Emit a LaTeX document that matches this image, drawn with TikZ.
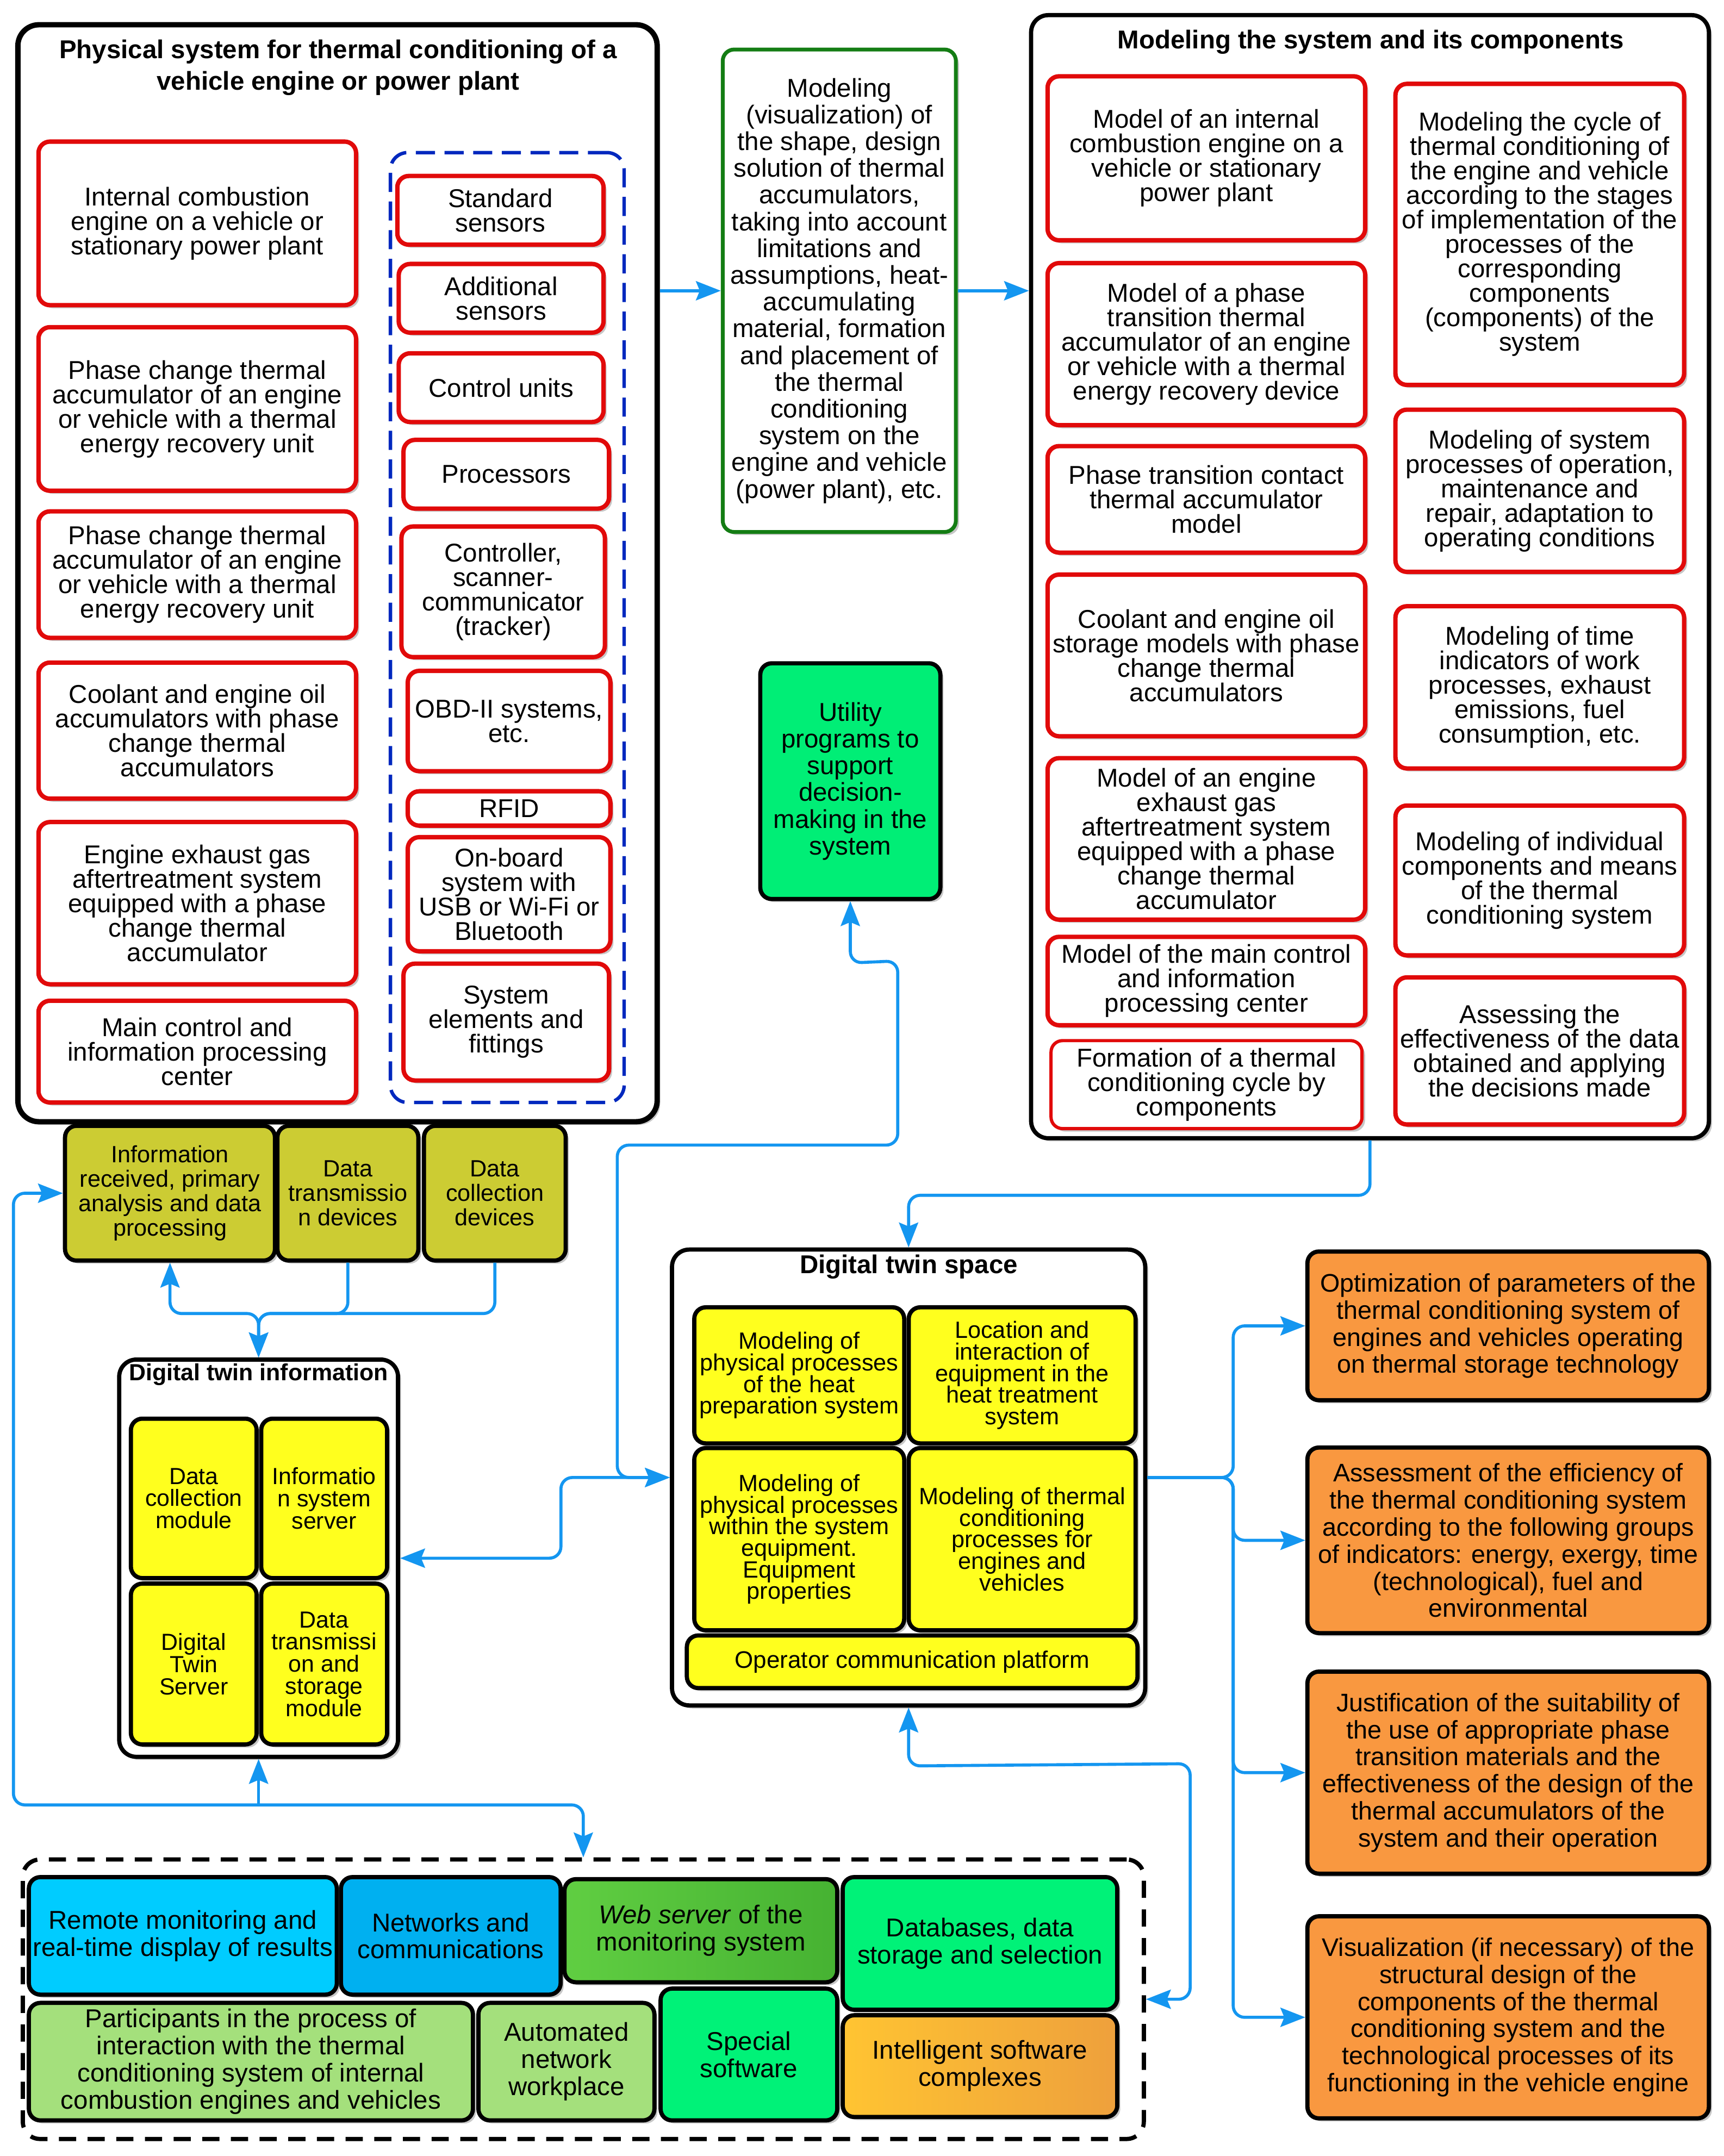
\documentclass[tikz,border=0pt]{standalone}
\usepackage{fontspec}
\setmainfont{Liberation Sans}
\usetikzlibrary{arrows.meta,shadows,calc}
\lineskiplimit=-100pt
\definecolor{redb}{RGB}{225,10,10}
\definecolor{arrowc}{RGB}{20,150,240}
\definecolor{dblue}{RGB}{0,40,190}
\definecolor{greenb}{RGB}{20,125,20}
\definecolor{colOlive}{RGB}{204,204,51}
\definecolor{colYellow}{RGB}{255,255,30}
\definecolor{colOrange}{RGB}{249,152,64}
\definecolor{colSpring}{RGB}{0,238,118}
\definecolor{colCyan}{RGB}{0,204,255}
\definecolor{colNet}{RGB}{0,176,240}
\definecolor{colWebA}{RGB}{96,206,66}
\definecolor{colWebB}{RGB}{70,178,50}
\definecolor{colDB}{RGB}{0,242,120}
\definecolor{colLight}{RGB}{164,224,124}
\definecolor{colIntA}{RGB}{255,196,50}
\definecolor{colIntB}{RGB}{238,160,60}
\newcommand\mybox[7]{\node[#1, minimum width={(#5-#3)*0.02529cm}, minimum height={(#6-#4)*0.02529cm}] (#2) at ({(#3+#5)/2},{(#4+#6)/2}) {#7};}
\tikzset{
  shad/.style={drop shadow={shadow xshift=1.6pt,shadow yshift=-1.6pt,opacity=0.22,fill=black}},
  basebox/.style={rounded corners=6pt, align=center, inner sep=1pt, shad},
  redbox/.style={basebox, draw=redb, line width=2.3pt, fill=white, font=\fontsize{13.5}{12.8}\selectfont},
  container/.style={draw=black, line width=2.2pt, fill=white, rounded corners=9pt, shad},
  ttl/.style={align=center, inner sep=0pt, font=\bfseries\fontsize{13.5}{16.5}\selectfont},
  dashblue/.style={draw=dblue, line width=1.8pt, dash pattern=on 10pt off 5pt, rounded corners=9pt},
  dashblack/.style={draw=black, line width=2.2pt, dash pattern=on 9pt off 6pt, rounded corners=9pt},
  greenbox/.style={basebox, draw=greenb, line width=2pt, fill=white, font=\fontsize{13.5}{14}\selectfont},
  blkbox/.style={basebox, draw=black, line width=2.2pt},
  utilbox/.style={blkbox, fill=colSpring, font=\fontsize{13.5}{14}\selectfont},
  olivebox/.style={blkbox, fill=colOlive, font=\fontsize{12.3}{12.8}\selectfont},
  yelA/.style={blkbox, fill=colYellow, font=\fontsize{12.2}{11.6}\selectfont},
  yelB/.style={blkbox, fill=colYellow, font=\fontsize{12.3}{11.3}\selectfont},
  orbox/.style={blkbox, fill=colOrange, font=\fontsize{13.3}{14.2}\selectfont},
  botbox/.style={blkbox, font=\fontsize{13.5}{14.2}\selectfont},
  conn/.style={draw=arrowc, line width=1.6pt, rounded corners=6pt},
  arr/.style={conn, -{Stealth[length=13pt,width=10pt,inset=2pt]}},
  dbl/.style={conn, {Stealth[length=13pt,width=10pt,inset=2pt]}-{Stealth[length=13pt,width=10pt,inset=2pt]}}
}
\begin{document}
\begin{tikzpicture}[x=0.02529cm,y=-0.02529cm]
\useasboundingbox (0,0) rectangle (1254,1568.4);

% ---------- Physical system ----------
\mybox{container,line width=2.8pt,rounded corners=11pt}{phys}{13}{18}{478}{816}{}
\node[ttl] (physT) at (246,49) {Physical system for thermal conditioning of a\\vehicle engine or power plant};
\mybox{dashblue}{sensgrp}{284}{111}{454}{802}{}
\mybox{redbox}{p1}{28}{103}{259}{222}{Internal combustion\\engine on a vehicle or\\stationary power plant}
\mybox{redbox}{p2}{28}{238}{259}{357}{Phase change thermal\\accumulator of an engine\\or vehicle with a thermal\\energy recovery unit}
\mybox{redbox}{p3}{28}{372}{259}{464}{Phase change thermal\\accumulator of an engine\\or vehicle with a thermal\\energy recovery unit}
\mybox{redbox}{p4}{28}{482}{259}{581}{Coolant and engine oil\\accumulators with phase\\change thermal\\accumulators}
\mybox{redbox}{p5}{28}{598}{259}{716}{Engine exhaust gas\\aftertreatment system\\equipped with a phase\\change thermal\\accumulator}
\mybox{redbox}{p6}{28}{728}{259}{802}{Main control and\\information processing\\center}
\mybox{redbox}{s1}{289}{128}{439}{178}{Standard\\sensors}
\mybox{redbox}{s2}{290}{192}{439}{242}{Additional\\sensors}
\mybox{redbox}{s3}{290}{257}{439}{307}{Control units}
\mybox{redbox}{s4}{293.5}{320}{443}{370}{Processors}
\mybox{redbox}{s5}{292}{383}{440}{478}{Controller,\\scanner-\\communicator\\(tracker)}
\mybox{redbox}{s6}{296.6}{488}{444}{561}{OBD-II systems,\\etc.}
\mybox{redbox}{s7}{296.6}{575.6}{444}{600.6}{RFID}
\mybox{redbox}{s8}{296.6}{609}{444}{692}{On-board\\system with\\USB or Wi-Fi or\\Bluetooth}
\mybox{redbox}{s9}{293.5}{701}{443}{786}{System\\elements and\\fittings}

% ---------- Green modeling box ----------
\mybox{greenbox}{green}{525.7}{36}{695.3}{387}{Modeling\\(visualization) of\\the shape, design\\solution of thermal\\accumulators,\\taking into account\\limitations and\\assumptions, heat-\\accumulating\\material, formation\\and placement of\\the thermal\\conditioning\\system on the\\engine and vehicle\\(power plant), etc.}

% ---------- Modeling the system ----------
\mybox{container}{model}{750}{11}{1243}{828}{}
\node[ttl] (modelT) at (997,30.5) {Modeling the system and its components};
\mybox{redbox}{m1}{762}{55.5}{993}{174.8}{Model of an internal\\combustion engine on a\\vehicle or stationary\\power plant}
\mybox{redbox}{m2}{762}{191.4}{993}{309.3}{Model of a phase\\transition thermal\\accumulator of an engine\\or vehicle with a thermal\\energy recovery device}
\mybox{redbox}{m3}{762}{324.5}{993}{402}{Phase transition contact\\thermal accumulator\\model}
\mybox{redbox}{m4}{762}{418}{993}{535.6}{Coolant and engine oil\\storage models with phase\\change thermal\\accumulators}
\mybox{redbox}{m5}{762}{551.5}{993}{669}{Model of an engine\\exhaust gas\\aftertreatment system\\equipped with a phase\\change thermal\\accumulator}
\mybox{redbox}{m6}{762}{681.5}{993}{745.8}{Model of the main control\\and information\\processing center}
\mybox{redbox,line width=1.7pt}{m7}{764.5}{757}{990.7}{821}{Formation of a thermal\\conditioning cycle by\\components}
\mybox{redbox}{m8}{1015}{61}{1225}{280}{Modeling the cycle of\\thermal conditioning of\\the engine and vehicle\\according to the stages\\of implementation of the\\processes of the\\corresponding\\components\\(components) of the\\system}
\mybox{redbox}{m9}{1015}{298}{1225}{416}{Modeling of system\\processes of operation,\\maintenance and\\repair, adaptation to\\operating conditions}
\mybox{redbox}{m10}{1015}{441}{1225}{559}{Modeling of time\\indicators of work\\processes, exhaust\\emissions, fuel\\consumption, etc.}
\mybox{redbox}{m11}{1015}{586}{1225}{695}{Modeling of individual\\components and means\\of the thermal\\conditioning system}
\mybox{redbox}{m12}{1015}{711}{1225}{818}{Assessing the\\effectiveness of the data\\obtained and applying\\the decisions made}

% ---------- Utility ----------
\mybox{utilbox}{util}{553}{482.5}{684}{654}{Utility\\programs to\\support\\decision-\\making in the\\system}

% ---------- Olive boxes ----------
\mybox{olivebox}{ol1}{47.3}{819}{200}{917}{Information\\received, primary\\analysis and data\\processing}
\mybox{olivebox}{ol2}{201.8}{819}{304.3}{917}{Data\\transmissio\\n devices}
\mybox{olivebox}{ol3}{308.4}{819}{411.5}{917}{Data\\collection\\devices}

% ---------- Digital twin information ----------
\mybox{container}{dti}{86.7}{989}{289.5}{1278}{}
\node[ttl,font=\bfseries\fontsize{12.2}{14}\selectfont] (dtiT) at (188,1000) {Digital twin information};
\mybox{yelA}{y1}{95.2}{1032}{186.7}{1148}{Data\\collection\\module}
\mybox{yelA}{y2}{190}{1032}{281.6}{1148}{Informatio\\n system\\server}
\mybox{yelA}{y3}{95.2}{1152}{186.7}{1269}{Digital\\Twin\\Server}
\mybox{yelA}{y4}{190}{1152}{281.6}{1269}{Data\\transmissi\\on and\\storage\\module}

% ---------- Digital twin space ----------
\mybox{container}{dts}{488.8}{909}{833}{1240.6}{}
\node[ttl] (dtsT) at (661,921.6) {Digital twin space};
\mybox{yelB}{d1}{505}{951}{657.7}{1050}{Modeling of\\physical processes\\of the heat\\preparation system}
\mybox{yelB}{d2}{661}{951}{826}{1050}{Location and\\interaction of\\equipment in the\\heat treatment\\system}
\mybox{yelB}{d3}{505}{1053.4}{657.7}{1186}{Modeling of\\physical processes\\within the system\\equipment.\\Equipment\\properties}
\mybox{yelB}{d4}{661}{1053.4}{826}{1186}{Modeling of thermal\\conditioning\\processes for\\engines and\\vehicles}
\mybox{yelB,font=\fontsize{12.5}{13}\selectfont}{d5}{499.6}{1189.7}{827.4}{1228}{Operator communication platform}

% ---------- Orange boxes ----------
\mybox{orbox}{o1}{951}{910.4}{1243}{1018.6}{Optimization of parameters of the\\thermal conditioning system of\\engines and vehicles operating\\on thermal storage technology}
\mybox{orbox}{o2}{951}{1053}{1243}{1188}{Assessment of the efficiency of\\the thermal conditioning system\\according to the following groups\\of indicators: energy, exergy, time\\(technological), fuel and\\environmental}
\mybox{orbox}{o3}{951}{1216}{1243}{1363}{Justification of the suitability of\\the use of appropriate phase\\transition materials and the\\effectiveness of the design of the\\thermal accumulators of the\\system and their operation}
\mybox{orbox}{o4}{951}{1394}{1243}{1541}{Visualization (if necessary) of the\\structural design of the\\components of the thermal\\conditioning system and the\\technological processes of its\\functioning in the vehicle engine}

% ---------- Bottom group ----------
\mybox{dashblack}{bot}{16.6}{1352.7}{832}{1556}{}
\mybox{botbox,fill=colCyan}{b1}{21}{1365.5}{245}{1451}{Remote monitoring and\\real-time display of results}
\mybox{botbox,fill=colNet}{b2}{248}{1365.5}{407.8}{1451}{Networks and\\communications}
\mybox{botbox,left color=colWebA,right color=colWebB}{b3}{410.6}{1367}{609}{1442}{\textit{Web server} of the\\monitoring system}
\mybox{botbox,fill=colDB}{b4}{613}{1365.5}{812.7}{1462}{Databases, data\\storage and selection}
\mybox{botbox,fill=colLight}{b5}{21}{1457}{344}{1542.5}{Participants in the process of\\interaction with the thermal\\conditioning system of internal\\combustion engines and vehicles}
\mybox{botbox,fill=colLight}{b6}{348}{1457}{476}{1542.5}{Automated\\network\\workplace}
\mybox{botbox,fill=colDB}{b7}{480.5}{1446.6}{609}{1542.5}{Special\\software}
\mybox{botbox,left color=colIntA,right color=colIntB}{b8}{613}{1466}{812.7}{1540}{Intelligent software\\complexes}

% ---------- Connectors ----------
\draw[arr] (phys.east |- green.west) -- (green.west);
\draw[arr] (green.east) -- (green.east -| model.west);
\draw[arr] (model.south) -- ++(0,40) -| (dts.north);
\draw[dbl] (util.south) -- ++(0,45) -- (653,699) -- (653,833) -- (449,833) |- (dts.west);
\draw[dbl] (dti.east) -| (408,1074.8) -- (dts.west);
\draw[dbl] (ol1.south) -- ++(0,37) -| (dti.north);
\draw[arr] (ol2.south) -- ++(0,37) -| (dti.north);
\draw[arr] (ol3.south) -- ++(0,37) -| (dti.north);
\draw[dbl] (ol1.west) -- ++(-36,0) -- ++(0,445) -| (bot.north);
\coordinate (busb) at (dti.south |- 0,1313);
\draw[arr] (busb) -- (dti.south);
\draw[dbl] (dts.south) -- ++(0,42.5) -- (865.7,1283) |- (bot.east);
\foreach \o in {o1,o2,o3,o4}{\draw[arr] (dts.east) -- (897,1074.8) |- (\o.west);}
\end{tikzpicture}
\end{document}
